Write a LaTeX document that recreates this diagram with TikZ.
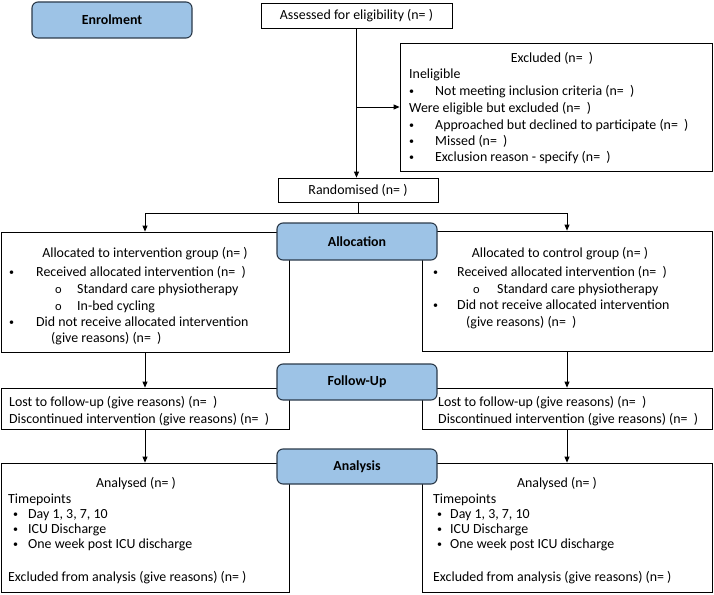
\documentclass[tikz,border=0pt]{standalone}
\usepackage{fontspec}
\setmainfont{Carlito}
\usetikzlibrary{arrows.meta}
\definecolor{bfill}{HTML}{9DC3E6}
\definecolor{bline}{HTML}{2B3A4A}
\begin{document}
\begin{tikzpicture}[x=1pt,y=-1pt,
  wbox/.style={draw=black,line width=0.8pt,fill=white,inner sep=0pt,rectangle},
  bbox/.style={draw=bline,line width=1.1pt,fill=bfill,rounded corners=6pt,inner sep=0pt,font=\fontsize{13.9}{16.7}\selectfont\bfseries},
  txt/.style={anchor=base west,inner sep=0pt,font=\fontsize{13.9}{16.7}\selectfont},
  bul/.style={anchor=base west,inner sep=0pt,font=\fontsize{10}{12}\selectfont},
  sbul/.style={anchor=base west,inner sep=0pt,font=\fontsize{12.5}{14}\selectfont},
  ctxt/.style={txt,anchor=base},
  arr/.style={line width=0.8pt,-{Triangle[length=6pt,width=5pt]}},
  ln/.style={line width=0.8pt}]
\useasboundingbox (0,0) rectangle (714,594);

% white boxes
\node[wbox,minimum width=191pt,minimum height=25pt] (assess) at (356.5,15.5) {};
\node[wbox,minimum width=312pt,minimum height=128pt] (excl) at (556,107) {};
\node[wbox,minimum width=160pt,minimum height=24pt] (rand) at (358,190) {};
\node[wbox,minimum width=288pt,minimum height=120pt] (allocL) at (145,292) {};
\node[wbox,minimum width=290pt,minimum height=120pt] (allocR) at (567,291) {};
\node[wbox,minimum width=288pt,minimum height=41pt] (fuL) at (145,408.5) {};
\node[wbox,minimum width=290pt,minimum height=41pt] (fuR) at (567,408.5) {};
\node[wbox,minimum width=288pt,minimum height=129pt] (anL) at (145,527.5) {};
\node[wbox,minimum width=290pt,minimum height=129pt] (anR) at (567,527.5) {};

% connectors
\draw[arr] (assess.south) -- (assess.south |- rand.north);
\draw[arr] (assess.south |- excl.west) -- (excl.west);
\draw[ln] (rand.south) -- ++(0,11) coordinate (split);
\draw[arr] (split) -| (allocL.north);
\draw[arr] (split) -| (allocR.north);
\draw[arr] (allocL.south) -- (fuL.north);
\draw[arr] (allocR.south) -- (fuR.north);
\draw[arr] (fuL.south) -- (anL.north);
\draw[arr] (fuR.south) -- (anR.north);

% blue stage boxes
\node[bbox,minimum width=160pt,minimum height=36pt] (enrol) at (112,20) {Enrolment};
\node[bbox,minimum width=160pt,minimum height=37pt] (allocB) at (357,241.5) {Allocation};
\node[bbox,minimum width=160pt,minimum height=36pt] (fuB) at (357,382) {Follow-Up};
\node[bbox,minimum width=160pt,minimum height=35pt] (anB) at (357,466.5) {Analysis};

% texts: assessed / randomised
\node[ctxt] (assessT) at (356.5,20) {Assessed for eligibility (n=~)};
\node[ctxt] (randT) at (358,194.5) {Randomised (n=~)};

% excluded
\node[ctxt] (ex0) at (552,62.5) {Excluded (n=~~)};
\node[txt] (ex1) at (409,78.5) {Ineligible};
\node[bul] (exb1) at (409,94.5) {•};
\node[txt] (ex2) at (435,95.5) {Not meeting inclusion criteria (n=~~)};
\node[txt] (ex3) at (409,112.5) {Were eligible but excluded (n=~~)};
\node[bul] (exb2) at (409,128.5) {•};
\node[txt] (ex4) at (435,129.5) {Approached but declined to participate (n=~~)};
\node[bul] (exb3) at (409,144.5) {•};
\node[txt] (ex5) at (435,145.5) {Missed (n=~~)};
\node[bul] (exb4) at (409,160.5) {•};
\node[txt] (ex6) at (435,161.5) {Exclusion reason - specify (n=~~)};

% allocation left
\node[ctxt] (al0) at (145,257.5) {Allocated to intervention group (n=~)};
\node[bul] (alb1) at (9,275.5) {•};
\node[txt] (al1) at (36,276.5) {Received allocated intervention (n=~~)};
\node[sbul] (alo1) at (55,293.5) {o};
\node[txt] (al2) at (77,293.5) {Standard care physiotherapy};
\node[sbul] (alo2) at (55,310.5) {o};
\node[txt] (al3) at (77,310.5) {In-bed cycling};
\node[bul] (alb2) at (9,325.5) {•};
\node[txt] (al4) at (36,326.5) {Did not receive allocated intervention};
\node[txt] (al5) at (51,342.5) {(give reasons) (n=~~)};

% allocation right
\node[ctxt] (ar0) at (560,257.5) {Allocated to control group (n=~)};
\node[bul] (arb1) at (433,275.5) {•};
\node[txt] (ar1) at (457,276.5) {Received allocated intervention (n=~~)};
\node[sbul] (aro1) at (473,293) {o};
\node[txt] (ar2) at (497,293) {Standard care physiotherapy};
\node[bul] (arb2) at (433,308.5) {•};
\node[txt] (ar3) at (457,309.5) {Did not receive allocated intervention};
\node[txt] (ar4) at (466,326) {(give reasons) (n=~~)};

% follow-up
\node[txt] (fl1) at (9,406.5) {Lost to follow-up (give reasons) (n=~~)};
\node[txt] (fl2) at (9,423.5) {Discontinued intervention (give reasons) (n=~~)};
\node[txt] (fr1) at (438,406.5) {Lost to follow-up (give reasons) (n=~~)};
\node[txt] (fr2) at (438,423.5) {Discontinued intervention (give reasons) (n=~~)};

% analysis left
\node[ctxt] (nl0) at (136,487.5) {Analysed (n=~)};
\node[txt] (nl1) at (8,503.5) {Timepoints};
\node[bul] (nlb1) at (13,517.5) {•};
\node[txt] (nl2) at (28,518.5) {Day 1, 3, 7, 10};
\node[bul] (nlb2) at (13,532.5) {•};
\node[txt] (nl3) at (28,533.5) {ICU Discharge};
\node[bul] (nlb3) at (13,547.5) {•};
\node[txt] (nl4) at (28,548.5) {One week post ICU discharge};
\node[txt] (nl5) at (8,581.5) {Excluded from analysis (give reasons) (n=~)};

% analysis right
\node[ctxt] (nr0) at (557,487.5) {Analysed (n=~)};
\node[txt] (nr1) at (433,503.5) {Timepoints};
\node[bul] (nrb1) at (437,517.5) {•};
\node[txt] (nr2) at (450,518.5) {Day 1, 3, 7, 10};
\node[bul] (nrb2) at (437,532.5) {•};
\node[txt] (nr3) at (450,533.5) {ICU Discharge};
\node[bul] (nrb3) at (437,547.5) {•};
\node[txt] (nr4) at (450,548.5) {One week post ICU discharge};
\node[txt] (nr5) at (433,581.5) {Excluded from analysis (give reasons) (n=~)};
\end{tikzpicture}
\end{document}
